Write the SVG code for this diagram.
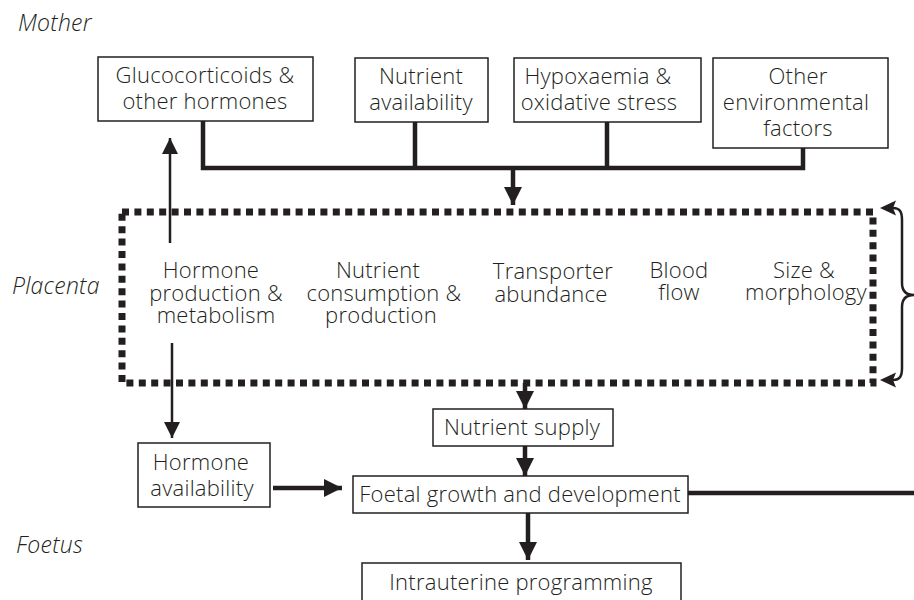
<svg xmlns="http://www.w3.org/2000/svg" width="914" height="600" viewBox="0 0 914 600">
<style>
text{font-family:"Open Sans","Noto Sans",sans-serif;font-size:22px;font-weight:300;letter-spacing:0.25px;fill:#231f20;text-anchor:middle}
.lab{font-style:italic;text-anchor:start;font-size:23px}
.box{fill:#fff;stroke:#231f20;stroke-width:1.5}
.thick{fill:none;stroke:#231f20;stroke-width:4.5}
.thin{fill:none;stroke:#231f20;stroke-width:2.5}
.dash{fill:none;stroke:#231f20;stroke-width:7;stroke-dasharray:7 5.4}
</style>
<defs>
<marker id="ah" viewBox="0 0 10 10" refX="10" refY="5" markerWidth="4" markerHeight="4" orient="auto" markerUnits="strokeWidth"><path d="M0,0L10,5L0,10z" fill="#231f20"/></marker>
<marker id="ahs" viewBox="0 0 10 10" refX="10" refY="5" markerWidth="6.5" markerHeight="6.5" orient="auto" markerUnits="strokeWidth"><path d="M0,0L10,5L0,10z" fill="#231f20"/></marker>
</defs>
<g id="labels">
<text class="lab" x="18" y="31">Mother</text>
<text class="lab" x="12" y="294">Placenta</text>
<text class="lab" x="16" y="553">Foetus</text>
</g>
<g id="connectors">
<path class="thick" d="M203,121V168H803V148M415,122V168M607,122V168"/>
<path class="thick" d="M513,168V205" marker-end="url(#ah)"/>
<path class="thin" d="M170,243V138" marker-end="url(#ahs)"/>
<path class="thin" d="M172,343V438" marker-end="url(#ahs)"/>
<path class="thick" d="M273,488H342" marker-end="url(#ah)"/>
<path class="thick" d="M525,383V409" marker-end="url(#ah)"/>
<path class="thick" d="M525,446V476" marker-end="url(#ah)"/>
<path class="thick" d="M528,513V560" marker-end="url(#ah)"/>
<path class="thick" d="M688,493H914"/>
<path class="thin" d="M893,208C900,208 902,212 902,220V283C902,291 906,295 914,295M914,295C906,295 902,299 902,307V368C902,376 900,380 893,380"/>
<path d="M880,208L896,200.5L893,208L896,215.5z" fill="#231f20"/>
<path d="M880,380L896,372.5L893,380L896,387.5z" fill="#231f20"/>
</g>
<g id="gluco"><rect class="box" x="98" y="57" width="215" height="64"/><text x="205" y="83">Glucocorticoids &amp;</text><text x="205" y="109">other hormones</text></g>
<g id="nutrient-avail"><rect class="box" x="355" y="58" width="133" height="64"/><text x="421" y="84">Nutrient</text><text x="421" y="110">availability</text></g>
<g id="hypox"><rect class="box" x="514" y="58" width="187" height="64"/><text x="598" y="84">Hypoxaemia &amp;</text><text x="599" y="110">oxidative stress</text></g>
<g id="other"><rect class="box" x="713" y="58" width="175" height="90"/><text x="798" y="84">Other</text><text x="796" y="110">environmental</text><text x="798" y="136">factors</text></g>
<g id="placenta">
<rect class="dash" x="122" y="212" width="751" height="171"/>
<text x="211" y="278">Hormone</text><text x="216" y="301">production &amp;</text><text x="216" y="323">metabolism</text>
<text x="378" y="278">Nutrient</text><text x="384" y="301">consumption &amp;</text><text x="381" y="323">production</text>
<text x="553" y="279">Transporter</text><text x="551" y="302">abundance</text>
<text x="679" y="278">Blood</text><text x="679" y="300">flow</text>
<text x="804" y="278">Size &amp;</text><text x="806" y="300">morphology</text>
</g>
<g id="hormone-avail"><rect class="box" x="138" y="443" width="132" height="64"/><text x="201" y="470">Hormone</text><text x="202" y="496">availability</text></g>
<g id="nutrient-supply"><rect class="box" x="433" y="409" width="180" height="37"/><text x="522" y="435">Nutrient supply</text></g>
<g id="foetal"><rect class="box" x="353" y="476" width="335" height="37"/><text x="520" y="502">Foetal growth and development</text></g>
<g id="intrauterine"><rect class="box" x="362" y="563" width="319" height="45"/><text x="521" y="590">Intrauterine programming</text></g>
</svg>
